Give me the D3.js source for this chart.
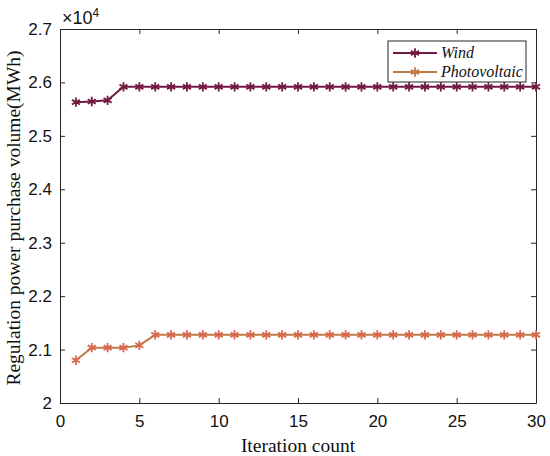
<!DOCTYPE html>
<html>
<head>
<meta charset="utf-8">
<script src="https://cdn.jsdelivr.net/npm/d3@7"></script>
<style>
  body { margin: 0; background: #fff; }
  svg { display: block; }
</style>
</head>
<body>
<svg id="chart" width="550" height="456"></svg>
<script>
// values in units of 1e4 MWh
const iterations = d3.range(1, 31);
const windValues = [2.5630, 2.5643, 2.5665, 2.5918, 2.5918, 2.5918, 2.5918, 2.5918, 2.5918, 2.5918,
  2.5918, 2.5918, 2.5918, 2.5918, 2.5918, 2.5918, 2.5918, 2.5918, 2.5918, 2.5918,
  2.5918, 2.5918, 2.5918, 2.5918, 2.5918, 2.5918, 2.5918, 2.5918, 2.5918, 2.5918];
const pvValues = [2.0800, 2.1035, 2.1035, 2.1035, 2.1078, 2.1276, 2.1276, 2.1276, 2.1276, 2.1276,
  2.1276, 2.1276, 2.1276, 2.1276, 2.1276, 2.1276, 2.1276, 2.1276, 2.1276, 2.1276,
  2.1276, 2.1276, 2.1276, 2.1276, 2.1276, 2.1276, 2.1276, 2.1276, 2.1276, 2.1276];
const xTicks = [0, 5, 10, 15, 20, 25, 30];
const yTicks = [2, 2.1, 2.2, 2.3, 2.4, 2.5, 2.6, 2.7];
const seriesNames = ["Wind", "Photovoltaic"];

const margin = { top: 29, right: 14, bottom: 53, left: 60 };
const width = 550 - margin.left - margin.right;
const height = 456 - margin.top - margin.bottom;

const series = [
  { name: seriesNames[0], values: windValues, line: "#731a40", marker: "#731a40" },
  { name: seriesNames[1], values: pvValues, line: "#c07a46", marker: "#d8674c" }
];

const svg = d3.select("#chart")
  .append("g")
  .attr("transform", `translate(${margin.left},${margin.top})`);

const x = d3.scaleLinear().domain([0, 30]).range([0, width]);
const y = d3.scaleLinear().domain([2, 2.7]).range([height, 0]);

// axes, MATLAB style: ticks inside, box on
const tickFont = "'Liberation Sans', Arial, sans-serif";
const styleAxis = g => {
  g.select(".domain").attr("stroke", "#262626").attr("stroke-width", 1);
  g.selectAll(".tick line").attr("stroke", "#262626");
  g.selectAll("text").attr("font-family", tickFont).attr("font-size", 17).attr("fill", "#111");
};

svg.append("g")
  .attr("transform", `translate(0,${height})`)
  .call(d3.axisBottom(x).tickValues(xTicks).tickSize(-5).tickSizeOuter(0).tickPadding(12))
  .call(styleAxis);
svg.append("g")
  .call(d3.axisLeft(y).tickValues(yTicks).tickFormat(d => d === 2 ? "2" : d3.format(".1f")(d))
    .tickSize(-5).tickSizeOuter(0).tickPadding(8))
  .call(styleAxis);
svg.append("g")
  .call(d3.axisTop(x).tickValues(xTicks).tickSize(-5).tickSizeOuter(0).tickFormat(""))
  .call(styleAxis);
svg.append("g")
  .attr("transform", `translate(${width},0)`)
  .call(d3.axisRight(y).tickValues(yTicks).tickSize(-5).tickSizeOuter(0).tickFormat(""))
  .call(styleAxis);

// exponent label
const expo = svg.append("text")
  .attr("x", 2).attr("y", -5)
  .attr("font-family", tickFont).attr("font-size", 18).attr("fill", "#111");
expo.append("tspan").text("×10");
expo.append("tspan").attr("dy", -7).attr("font-size", 12).text("4");

// lines and star markers
const line = d3.line()
  .x((d, i) => x(iterations[i]))
  .y(d => y(d));
const star = d3.symbol().type(d3.symbolAsterisk).size(60);

series.forEach(s => {
  svg.append("path")
    .attr("fill", "none")
    .attr("stroke", s.line)
    .attr("stroke-width", 2)
    .attr("d", line(s.values));
  svg.selectAll(null)
    .data(s.values)
    .enter()
    .append("path")
    .attr("d", star)
    .attr("transform", (d, i) => `translate(${x(iterations[i])},${y(d)})`)
    .attr("fill", "none")
    .attr("stroke", s.marker)
    .attr("stroke-width", 1.8);
});

// axis labels
const serif = "'Liberation Serif', 'Times New Roman', serif";
svg.append("text")
  .attr("x", width / 2).attr("y", height + 49)
  .attr("text-anchor", "middle")
  .attr("font-family", serif).attr("font-size", 19.5).attr("fill", "#111")
  .text("Iteration count");
svg.append("text")
  .attr("transform", `translate(${-40},${height / 2 + 2}) rotate(-90)`)
  .attr("text-anchor", "middle")
  .attr("font-family", serif).attr("font-size", 19.5).attr("fill", "#111")
  .text("Regulation power purchase volume(MWh)");

// legend
const legend = svg.append("g").attr("transform", `translate(${x(0) + 328},${12})`);
legend.append("rect")
  .attr("width", 138).attr("height", 41)
  .attr("fill", "#fff").attr("stroke", "#262626").attr("stroke-width", 1);
series.forEach((s, i) => {
  const row = legend.append("g").attr("transform", `translate(0,${12 + i * 19})`);
  row.append("line")
    .attr("x1", 5).attr("x2", 49)
    .attr("stroke", s.line).attr("stroke-width", 2);
  row.append("path")
    .attr("d", star)
    .attr("transform", "translate(27,0)")
    .attr("fill", "none").attr("stroke", s.line).attr("stroke-width", 1.8);
  row.append("text")
    .attr("x", 53).attr("y", 5)
    .attr("font-family", serif).attr("font-style", "italic")
    .attr("font-size", 16).attr("fill", "#111")
    .text(s.name);
});
</script>
</body>
</html>
